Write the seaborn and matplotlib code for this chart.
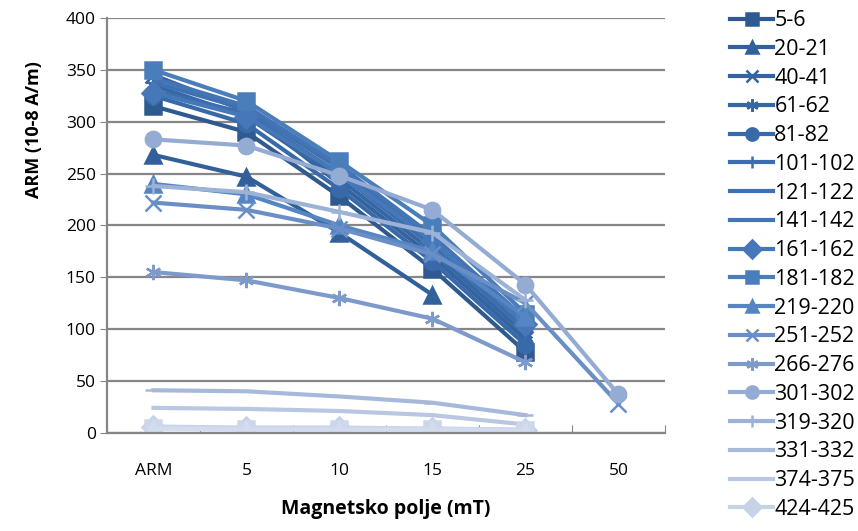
import numpy as np
import pandas as pd
import matplotlib
matplotlib.use("Agg")
import matplotlib.pyplot as plt
import seaborn as sns

# categorije na x osi
kategorije = ["ARM", "5", "10", "15", "25", "50"]

# zadnje dvije serije se ne vide u legendi (odrezana)
serije = ["5-6", "20-21", "40-41", "61-62", "81-82", "101-102", "121-122",
          "141-142", "161-162", "181-182", "219-220", "251-252", "266-276",
          "301-302", "319-320", "331-332", "374-375", "424-425",
          "_s19", "_s20"]

nan = np.nan
v_5_6 = [315, 290, 228, 158, 78, nan]
v_20_21 = [268, 247, 193, 133, nan, nan]
v_40_41 = [345, 310, 240, 170, 90, nan]
v_61_62 = [335, 305, 245, 175, 95, nan]
v_81_82 = [325, 298, 235, 165, 85, nan]
v_101_102 = [330, 308, 250, 180, 100, nan]
v_121_122 = [338, 312, 255, 185, 105, nan]
v_141_142 = [342, 315, 258, 190, 110, nan]
v_161_162 = [328, 305, 250, 185, 105, nan]
v_181_182 = [350, 320, 262, 200, 115, nan]
v_219_220 = [240, 230, 200, 175, 112, nan]
v_251_252 = [222, 215, 197, 172, 125, 28]
v_266_276 = [155, 147, 130, 110, 68, nan]
v_301_302 = [283, 277, 248, 215, 143, 37]
v_319_320 = [238, 232, 213, 193, 128, nan]
v_331_332 = [41, 40, 35, 29, 17, nan]
v_374_375 = [24, 23, 21, 17, 8, nan]
v_424_425 = [6, 5, 5, 4, 3, nan]
v_s19 = [5, 4, 4, 4, 3, nan]
v_s20 = [4, 3, 3, 3, 2, nan]

vrijednosti = [v_5_6, v_20_21, v_40_41, v_61_62, v_81_82, v_101_102, v_121_122,
               v_141_142, v_161_162, v_181_182, v_219_220, v_251_252, v_266_276,
               v_301_302, v_319_320, v_331_332, v_374_375, v_424_425,
               v_s19, v_s20]

boje = ["#2f5a8f", "#31609a", "#3464a0", "#3667a5", "#3869a8", "#3c6dad",
        "#3f71b2", "#4274b6", "#4678b9", "#4a7ebb", "#5585c2", "#6a8fc6",
        "#7e9acb", "#94abd3", "#9db2d7", "#a7b9da", "#b9c7e2", "#c6d2e8",
        "#cdd7eb", "#d3dcee"]
markeri = ["s", "^", "x", (6, 2, 0), "o", "+", None, None, "D", "s", "^", "x",
           (6, 2, 0), "o", "+", "_", None, "D", "s", "^"]

plt.rcParams["font.family"] = ["Open Sans", "DejaVu Sans"]

fig = plt.figure(figsize=(8.58, 5.31), dpi=100)
ax = fig.add_axes([0.1247, 0.185, 0.6503, 0.781])

pozicije = np.arange(len(kategorije))
for ime, vr, boja, mk in zip(serije, vrijednosti, boje, markeri):
    df = pd.DataFrame({"x": pozicije, "y": vr}).dropna()
    sns.lineplot(data=df, x="x", y="y", ax=ax, color=boja, linewidth=3,
                 marker=mk, markersize=11, markeredgewidth=1.8,
                 markeredgecolor=boja, label=ime)

ax.set_xlim(-0.5, len(kategorije) - 0.5)
ax.set_ylim(0, 400)
ax.set_yticks(range(0, 401, 50))
ax.set_xticks(np.arange(-0.5, len(kategorije), 1.0))
ax.set_xticklabels([])
ax.set_xticks(pozicije, minor=True)
ax.set_xticklabels(kategorije, minor=True)
ax.tick_params(axis="x", which="minor", length=0, labelsize=12.5, pad=22)
ax.tick_params(axis="x", which="major", length=6, color="#868686", direction="in")
ax.tick_params(axis="y", length=5, color="#868686", labelsize=12.5,
               direction="out", pad=3)
ax.grid(axis="y", color="#868686", linewidth=1.6)
ax.grid(axis="x", visible=False)
ax.set_axisbelow(True)
for s in ["top", "right"]:
    ax.spines[s].set_visible(False)
for s in ["left", "bottom"]:
    ax.spines[s].set_color("#868686")
    ax.spines[s].set_linewidth(1.6)

ax.set_xlabel("Magnetsko polje (mT)", fontsize=14, fontweight="bold", labelpad=14)
ax.set_ylabel("ARM (10-8 A/m)", fontsize=13, fontweight="bold")
ax.yaxis.set_label_coords(-0.115, 0.73)

ax.legend(loc="upper left", bbox_to_anchor=(0.841, 0.997),
          bbox_transform=fig.transFigure, frameon=False, fontsize=15.5,
          handlelength=2.0, handletextpad=0.05, labelspacing=0.36,
          borderaxespad=0, markerscale=0.8)

fig.savefig("out.png", dpi=100)
